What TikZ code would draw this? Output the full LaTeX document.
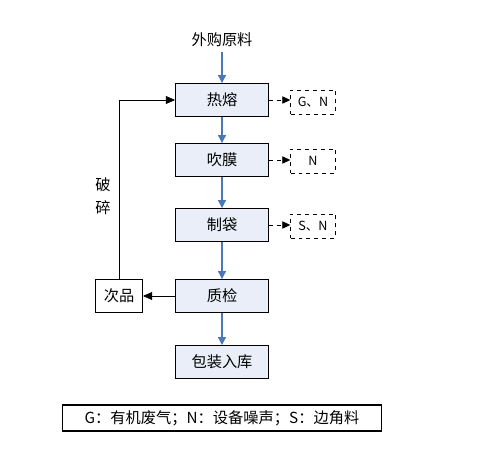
\documentclass[tikz,border=0pt]{standalone}
\usepackage{fontspec}
\newfontfamily\cjk{Noto Sans CJK SC}
\usetikzlibrary{arrows.meta}
\definecolor{boxfill}{HTML}{E9EEF8}
\definecolor{flowblue}{HTML}{4A78B8}

\begin{document}
\begin{tikzpicture}[x=0.0265cm, y=-0.0265cm, font=\cjk\fontsize{11.5}{13}\selectfont,
  stepbox/.style={draw, thick, fill=boxfill, minimum width=2.46cm, minimum height=0.87cm, inner sep=0pt},
  sidebox/.style={draw, thick, fill=white, minimum width=1.24cm, minimum height=0.87cm, inner sep=0pt},
  outbox/.style={draw, dashed, minimum width=1.19cm, minimum height=0.64cm, inner sep=0pt, font=\cjk\fontsize{9.5}{11}\selectfont},
  flow/.style={-{Triangle[length=6pt,width=6pt]}, flowblue, thick},
  emit/.style={-{Triangle[length=6pt,width=5.5pt]}, dashed},
  back/.style={-{Triangle[length=7pt,width=6pt]}}]

\useasboundingbox (0,0) rectangle (481,453);

% Main process steps
\node (src) at (222,40) {外购原料};
\node[stepbox] (melt) at (222,100) {热熔};
\node[stepbox] (blow) at (222,160) {吹膜};
\node[stepbox] (bag)  at (222,225) {制袋};
\node[stepbox] (qc)   at (222,296) {质检};
\node[stepbox] (pack) at (222,362) {包装入库};

% Rejects and recycling
\node[sidebox] (rej) at (119,296) {次品};
\node[align=center] (crush) at (103,196) {破\\[4pt]碎};

% Emissions
\node[outbox] (e1) at (313,102) {G、N};
\node[outbox] (e2) at (313,161) {N};
\node[outbox] (e3) at (313,226) {S、N};

% Legend
\node[draw, thick, minimum width=8.43cm, minimum height=0.69cm, inner sep=0pt] (key) at (222,418)
  {G：有机废气；N：设备噪声；S：边角料};

\draw[flow] (src) -- (melt);
\draw[flow] (melt) -- (blow);
\draw[flow] (blow) -- (bag);
\draw[flow] (bag) -- (qc);
\draw[flow] (qc) -- (pack);

\draw[emit] (melt.east) -- (e1.west |- melt.east);
\draw[emit] (blow.east) -- (e2.west |- blow.east);
\draw[emit] (bag.east) -- (e3.west |- bag.east);

\draw[back] (qc) -- (rej);
\draw[back] (rej.north) |- (melt.west);

\end{tikzpicture}
\end{document}
